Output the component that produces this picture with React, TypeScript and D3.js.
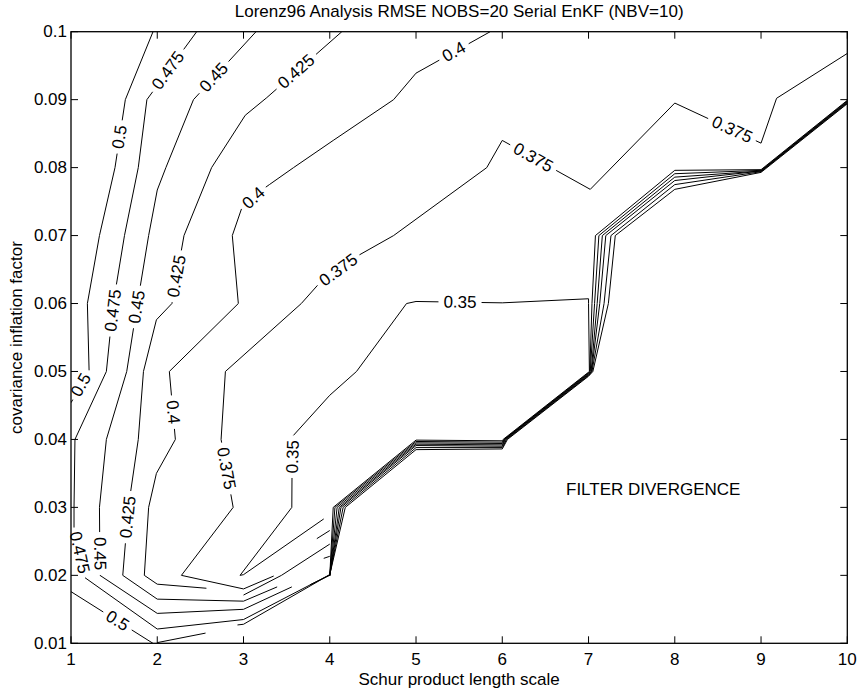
import React from 'react';
import * as d3 from 'd3';

type Pt = [number, number];

const W = 859;
const H = 692;
const PLOT = { left: 71, right: 847.3, top: 31.7, bottom: 643.3 };
const FONT = '"Liberation Sans", Arial, Helvetica, sans-serif';
const FS = 17;

const title = 'Lorenz96 Analysis RMSE NOBS=20 Serial EnKF (NBV=10)';
const xTitle = 'Schur product length scale';
const yTitle = 'covariance inflation factor';
const note = 'FILTER DIVERGENCE';
const notePos: Pt = [7.75, 0.0326];

const xTicks = [1, 2, 3, 4, 5, 6, 7, 8, 9, 10];
const yTicks = [0.01, 0.02, 0.03, 0.04, 0.05, 0.06, 0.07, 0.08, 0.09, 0.1];

// contour lines, one array of pieces per level
const line350: Pt[][] = [
  [[4.0, 0.0199], [4.04, 0.03], [5.0, 0.0399], [6.0, 0.0398], [6.01, 0.04], [7.0, 0.0499], [7.01, 0.05], [7.0, 0.06], [7.0, 0.0607], [6.0, 0.0601], [5.0, 0.0603], [4.89, 0.06], [4.31, 0.05], [4.0, 0.0465], [3.565, 0.0404], [3.56, 0.03], [2.96, 0.02], [3.0, 0.0201], [3.93, 0.0283]],
];
const line375: Pt[][] = [
  [[10, 0.0968], [9.18, 0.0902], [9.0, 0.0836], [8.0, 0.0895], [7.02, 0.0768], [6.0, 0.084], [5.82, 0.08], [4.74, 0.07], [4.0, 0.0647], [3.67, 0.06], [2.79, 0.05], [2.74, 0.04], [2.88, 0.03], [2.28, 0.02], [3.0, 0.018], [3.35, 0.0199]],
  [[3.85, 0.0254], [4.0, 0.0266]],
  [[4.0, 0.0199], [4.06, 0.03], [5.0, 0.0397], [6.0, 0.0396], [6.02, 0.04], [7.0, 0.0498], [7.015, 0.05], [7.04, 0.06], [7.08, 0.07], [8.0, 0.0796], [9.0, 0.0797], [10, 0.0899]],
];
const line400: Pt[][] = [
  [[5.86, 0.1], [5.0, 0.0939], [4.74, 0.09], [4.04, 0.084], [3.58, 0.08], [3.3, 0.0775], [3.0, 0.0748], [2.87, 0.07], [2.94, 0.06], [2.14, 0.05], [2.21, 0.04], [1.99, 0.035], [1.9, 0.03], [1.85, 0.02], [2.0, 0.0187], [2.57, 0.0181]],
  [[3.0, 0.0171], [3.44, 0.02], [4.0, 0.0246]],
  [[4.0, 0.02], [4.085, 0.03], [5.0, 0.0395], [6.0, 0.0394], [6.025, 0.04], [7.0, 0.0497], [7.02, 0.05], [7.07, 0.06], [7.12, 0.07], [8.0, 0.0791], [9.0, 0.0796], [10, 0.0898]],
];
const line425: Pt[][] = [
  [[4.14, 0.1], [3.27, 0.0903], [3.02, 0.0877], [2.63, 0.08], [2.31, 0.07], [2.17, 0.06], [1.99, 0.0576], [1.84, 0.05], [1.78, 0.04], [1.665, 0.03], [1.6, 0.02], [2.0, 0.0165], [3.0, 0.0162], [3.39, 0.0183]],
  [[3.93, 0.0225], [4.0, 0.0228]],
  [[4.0, 0.02], [4.11, 0.03], [5.0, 0.0393], [6.0, 0.0392], [6.03, 0.04], [7.0, 0.0496], [7.03, 0.05], [7.1, 0.06], [7.16, 0.07], [8.0, 0.0786], [9.0, 0.0795], [10, 0.0897]],
];
const line450: Pt[][] = [
  [[3.145, 0.1], [2.42, 0.09], [2.1, 0.08], [2.0, 0.0767], [1.9, 0.07], [1.77, 0.06], [1.646, 0.05], [1.41, 0.04], [1.33, 0.03], [1.336, 0.02], [2.0, 0.0144], [3.0, 0.015], [3.56, 0.0183]],
  [[3.77, 0.0186], [4.0, 0.02], [4.13, 0.03], [5.0, 0.0391], [6.0, 0.039], [6.04, 0.04], [7.0, 0.0495], [7.035, 0.05], [7.13, 0.06], [7.2, 0.07], [8.0, 0.0781], [9.0, 0.0795], [10, 0.0896]],
];
const line475: Pt[][] = [
  [[2.457, 0.1], [1.88, 0.09], [1.78, 0.08], [1.62, 0.07], [1.49, 0.06], [1.41, 0.05], [1.046, 0.04], [1.035, 0.03], [1.035, 0.027], [1.124, 0.02], [2.0, 0.0121], [3.0, 0.0135], [4.0, 0.0201], [4.155, 0.03], [5.0, 0.0388], [6.0, 0.0388], [6.05, 0.04], [7.0, 0.0494], [7.04, 0.05], [7.18, 0.06], [7.26, 0.07], [8.0, 0.0775], [9.0, 0.0794], [10, 0.0895]],
];
const line500: Pt[][] = [
  [[1.951, 0.1], [1.63, 0.09], [1.51, 0.08], [1.33, 0.07], [1.19, 0.06], [1.21, 0.05], [1.0, 0.0454]],
  [[1.0, 0.0176], [1.95, 0.01]],
  [[2.0, 0.0101], [2.56, 0.0115]],
  [[2.93, 0.0127], [3.0, 0.0128], [4.0, 0.0201], [4.18, 0.03], [5.0, 0.0385], [6.0, 0.0386], [6.06, 0.04], [7.0, 0.0493], [7.05, 0.05], [7.23, 0.06], [7.31, 0.07], [8.0, 0.0768], [9.0, 0.0793], [10, 0.0894]],
];

// where the inline labels sit
const labels350: Pt[] = [[5.51, 0.0601], [3.54, 0.0375]];
const labels375: Pt[] = [[8.66, 0.0855], [6.32, 0.0806], [4.06, 0.0657], [2.79, 0.0357]];
const labels400: Pt[] = [[5.45, 0.0968], [3.11, 0.0755], [2.17, 0.044]];
const labels425: Pt[] = [[3.655, 0.0935], [2.23, 0.064], [1.63, 0.0286]];
const labels450: Pt[] = [[2.69, 0.0929], [1.76, 0.0595], [1.32, 0.0232]];
const labels475: Pt[] = [[2.07, 0.0948], [1.47, 0.059], [1.073, 0.0232]];
const labels500: Pt[] = [[1.57, 0.0845], [1.12, 0.048], [1.51, 0.0127]];

const contours = [
  { level: 0.35, pieces: line350, labels: labels350 },
  { level: 0.375, pieces: line375, labels: labels375 },
  { level: 0.4, pieces: line400, labels: labels400 },
  { level: 0.425, pieces: line425, labels: labels425 },
  { level: 0.45, pieces: line450, labels: labels450 },
  { level: 0.475, pieces: line475, labels: labels475 },
  { level: 0.5, pieces: line500, labels: labels500 },
];

let ctx: CanvasRenderingContext2D | null = null;
function textWidth(t: string) {
  if (!ctx) {
    ctx = document.createElement('canvas').getContext('2d');
    if (ctx) ctx.font = `${FS}px ${FONT}`;
  }
  return ctx ? ctx.measureText(t).width : t.length * FS * 0.55;
}

function cumulative(pts: Pt[]) {
  const c = [0];
  for (let i = 1; i < pts.length; i++) {
    c.push(c[i - 1] + Math.hypot(pts[i][0] - pts[i - 1][0], pts[i][1] - pts[i - 1][1]));
  }
  return c;
}

function pointAt(pts: Pt[], c: number[], s: number): Pt {
  if (s <= 0) return pts[0];
  for (let i = 1; i < pts.length; i++) {
    if (s <= c[i]) {
      const t = (s - c[i - 1]) / (c[i] - c[i - 1] || 1);
      return [pts[i - 1][0] + t * (pts[i][0] - pts[i - 1][0]), pts[i - 1][1] + t * (pts[i][1] - pts[i - 1][1])];
    }
  }
  return pts[pts.length - 1];
}

function subLine(pts: Pt[], c: number[], s0: number, s1: number): Pt[] {
  const out: Pt[] = [pointAt(pts, c, s0)];
  for (let i = 0; i < pts.length; i++) if (c[i] > s0 && c[i] < s1) out.push(pts[i]);
  out.push(pointAt(pts, c, s1));
  return out;
}

function project(pts: Pt[], c: number[], p: Pt) {
  let best = { d: Infinity, s: 0 };
  for (let i = 1; i < pts.length; i++) {
    const [ax, ay] = pts[i - 1];
    const [bx, by] = pts[i];
    const dx = bx - ax, dy = by - ay;
    const L2 = dx * dx + dy * dy || 1;
    const t = Math.max(0, Math.min(1, ((p[0] - ax) * dx + (p[1] - ay) * dy) / L2));
    const d = Math.hypot(ax + t * dx - p[0], ay + t * dy - p[1]);
    if (d < best.d) best = { d, s: c[i - 1] + t * Math.sqrt(L2) };
  }
  return best;
}

export default function App() {
  const x = d3.scaleLinear().domain([1, 10]).range([PLOT.left, PLOT.right]);
  const y = d3.scaleLinear().domain([0.01, 0.1]).range([PLOT.bottom, PLOT.top]);
  const line = d3.line<Pt>().x(d => d[0]).y(d => d[1]);

  const paths: string[] = [];
  const texts: { t: string; x: number; y: number; a: number }[] = [];

  contours.forEach(({ level, pieces, labels }) => {
    const t = String(level);
    const half = textWidth(t) / 2 + 5;
    const px = pieces.map(pc => pc.map(([a, b]) => [x(a), y(b)] as Pt));
    const cums = px.map(cumulative);
    const gaps: [number, number][][] = px.map(() => []);
    labels.forEach(([a, b]) => {
      const p: Pt = [x(a), y(b)];
      let bi = 0, bs = { d: Infinity, s: 0 };
      px.forEach((pc, i) => {
        const r = project(pc, cums[i], p);
        if (r.d < bs.d) { bs = r; bi = i; }
      });
      const total = cums[bi][cums[bi].length - 1];
      const s0 = Math.max(0, bs.s - half);
      const s1 = Math.min(total, bs.s + half);
      const p0 = pointAt(px[bi], cums[bi], s0);
      const p1 = pointAt(px[bi], cums[bi], s1);
      let ang = (Math.atan2(p1[1] - p0[1], p1[0] - p0[0]) * 180) / Math.PI;
      if (ang > 90) ang -= 180;
      if (ang < -90) ang += 180;
      gaps[bi].push([s0, s1]);
      texts.push({ t, x: (p0[0] + p1[0]) / 2, y: (p0[1] + p1[1]) / 2, a: ang });
    });
    px.forEach((pc, i) => {
      const c = cums[i];
      const total = c[c.length - 1];
      const g = gaps[i].sort((m, n) => m[0] - n[0]);
      let s = 0;
      g.forEach(([g0, g1]) => {
        if (g0 > s) paths.push(line(subLine(pc, c, s, g0)) || '');
        s = Math.max(s, g1);
      });
      if (s < total) paths.push(line(subLine(pc, c, s, total)) || '');
    });
  });

  const tick = 7;

  return (
    <svg width={W} height={H} style={{ position: 'absolute', left: 0, top: 0, background: '#fff' }} fontFamily={FONT}>
      <rect x={0} y={0} width={W} height={H} fill="#fff" />
      <defs>
        <clipPath id="plot">
          <rect x={PLOT.left} y={PLOT.top} width={PLOT.right - PLOT.left} height={PLOT.bottom - PLOT.top} />
        </clipPath>
      </defs>
      <g clipPath="url(#plot)" fill="none" stroke="#000" strokeWidth={1}>
        {paths.map((d, i) => <path key={i} d={d} />)}
      </g>
      <g fontSize={FS} fill="#000" textAnchor="middle" dominantBaseline="central">
        {texts.map((l, i) => (
          <text key={i} x={l.x} y={l.y} transform={`rotate(${l.a},${l.x},${l.y})`}>{l.t}</text>
        ))}
      </g>
      <g stroke="#000" strokeWidth={1}>
        {xTicks.map(v => (
          <g key={v}>
            <line x1={x(v)} x2={x(v)} y1={PLOT.bottom} y2={PLOT.bottom - tick} />
            <line x1={x(v)} x2={x(v)} y1={PLOT.top} y2={PLOT.top + tick} />
          </g>
        ))}
        {yTicks.map(v => (
          <g key={v}>
            <line x1={PLOT.left} x2={PLOT.left + tick} y1={y(v)} y2={y(v)} />
            <line x1={PLOT.right} x2={PLOT.right - tick} y1={y(v)} y2={y(v)} />
          </g>
        ))}
        <rect x={PLOT.left} y={PLOT.top} width={PLOT.right - PLOT.left} height={PLOT.bottom - PLOT.top} fill="none" strokeWidth={1.3} />
      </g>
      <g fontSize={FS} fill="#000">
        {xTicks.map(v => (
          <text key={v} x={x(v)} y={PLOT.bottom + 22} textAnchor="middle">{v}</text>
        ))}
        {yTicks.map(v => (
          <text key={v} x={PLOT.left - 4} y={y(v)} textAnchor="end" dominantBaseline="central">{v}</text>
        ))}
        <text x={(PLOT.left + PLOT.right) / 2} y={17} textAnchor="middle">{title}</text>
        <text x={(PLOT.left + PLOT.right) / 2} y={685} textAnchor="middle">{xTitle}</text>
        <text transform={`translate(22,${(PLOT.top + PLOT.bottom) / 2}) rotate(-90)`} textAnchor="middle">{yTitle}</text>
        <text x={x(notePos[0])} y={y(notePos[1])} textAnchor="middle" dominantBaseline="central">{note}</text>
      </g>
    </svg>
  );
}
